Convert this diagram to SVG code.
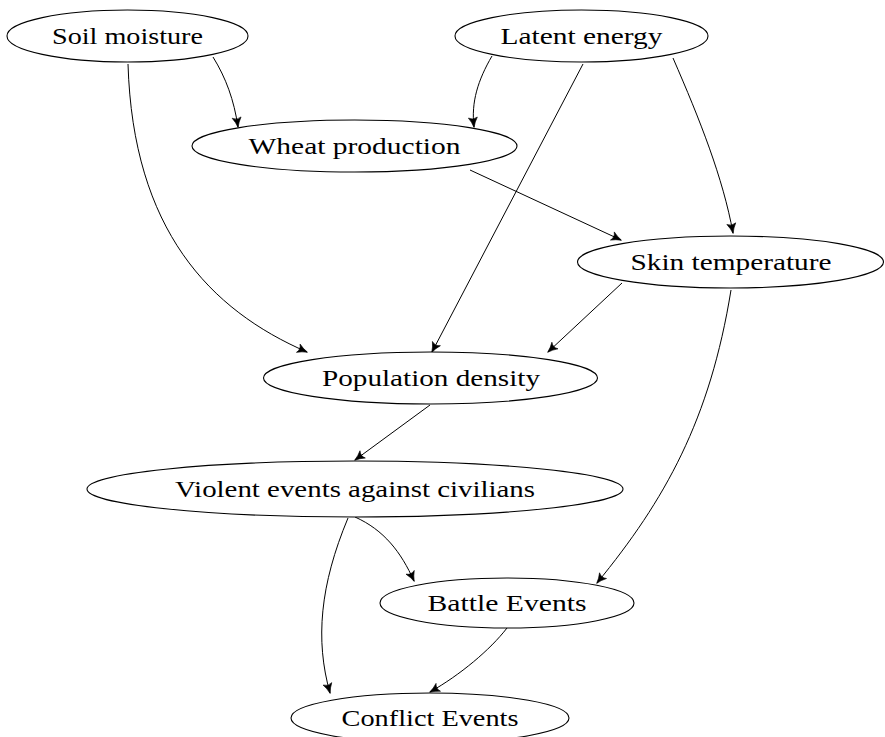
<svg xmlns="http://www.w3.org/2000/svg" width="885" height="737" viewBox="0 0 885 737">
<defs>
<marker id="ah" viewBox="-11 -6 12 12" markerWidth="12" markerHeight="12" refX="0" refY="0" orient="auto" markerUnits="userSpaceOnUse">
<path d="M0.5,0 Q-5,-1.5 -9.5,-4.5 Q-6.5,0 -9.5,4.5 Q-5,1.5 0.5,0 Z" fill="#000" stroke="#000" stroke-width="0.6" stroke-linejoin="round"/>
</marker>
<style>
.n ellipse{fill:#fff;stroke:#000;stroke-width:1.1}
.n text{font-family:"Liberation Serif","Times New Roman",serif;font-size:23px;fill:#000;text-anchor:middle}
#edges path{fill:none;stroke:#000;stroke-width:1;marker-end:url(#ah)}
</style>
</defs>
<rect width="885" height="737" fill="#fff"/>
<g id="edges">
<path d="M213,57 C226,78 234,100 238,127"/>
<path d="M128,64 C133,230 210,310 307,352"/>
<path d="M492,56 C478,80 471,102 474,127"/>
<path d="M583,64 L432,352"/>
<path d="M673,58 C700,120 723,178 733,233"/>
<path d="M470,170 L621,240"/>
<path d="M622,283 L548,352"/>
<path d="M731,290 C710,420 665,500 597,583"/>
<path d="M430,405 L355,460"/>
<path d="M355,517 C384,530 401,552 414,581"/>
<path d="M348,518 C320,585 315,640 330,693"/>
<path d="M507,628 C490,650 460,675 430,692"/>
</g>
<g id="soil" class="n"><ellipse cx="127.5" cy="36" rx="120.5" ry="26"/><text x="127.5" y="44" textLength="151" lengthAdjust="spacingAndGlyphs">Soil moisture</text></g>
<g id="latent" class="n"><ellipse cx="581.5" cy="36" rx="126.5" ry="26"/><text x="581.5" y="44" textLength="162" lengthAdjust="spacingAndGlyphs">Latent energy</text></g>
<g id="wheat" class="n"><ellipse cx="354.5" cy="146" rx="162.5" ry="26"/><text x="354.5" y="154" textLength="212" lengthAdjust="spacingAndGlyphs">Wheat production</text></g>
<g id="skin" class="n"><ellipse cx="730.5" cy="262" rx="153" ry="26"/><text x="731" y="270" textLength="201" lengthAdjust="spacingAndGlyphs">Skin temperature</text></g>
<g id="pop" class="n"><ellipse cx="430.5" cy="378" rx="167" ry="26"/><text x="431" y="386" textLength="218" lengthAdjust="spacingAndGlyphs">Population density</text></g>
<g id="violent" class="n"><ellipse cx="355" cy="489" rx="268" ry="28"/><text x="355" y="497" textLength="360" lengthAdjust="spacingAndGlyphs">Violent events against civilians</text></g>
<g id="battle" class="n"><ellipse cx="507" cy="603" rx="127" ry="25"/><text x="507" y="611" textLength="159" lengthAdjust="spacingAndGlyphs">Battle Events</text></g>
<g id="conflict" class="n"><ellipse cx="430" cy="718" rx="139" ry="25"/><text x="430" y="726" textLength="177" lengthAdjust="spacingAndGlyphs">Conflict Events</text></g>
</svg>
